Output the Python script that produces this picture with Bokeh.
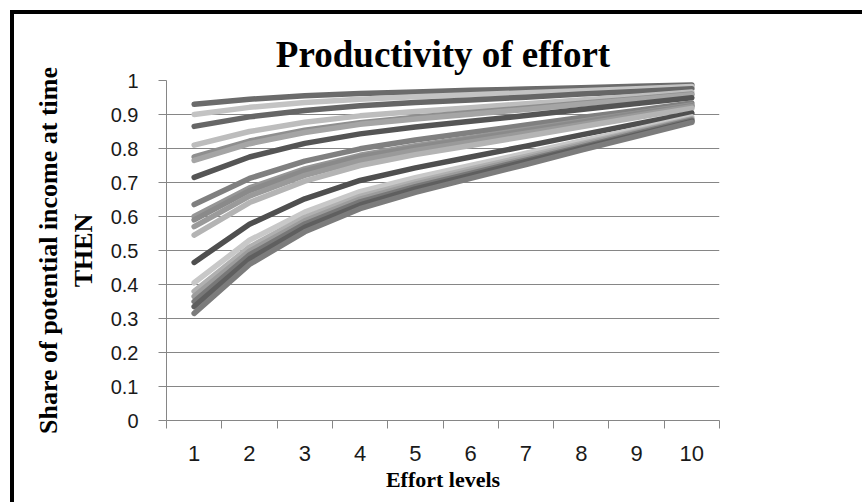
from bokeh.plotting import figure
from bokeh.models import Range1d, FixedTicker
from bokeh.embed import file_html
from bokeh.resources import INLINE

# ---- data ----
effort_levels = [1, 2, 3, 4, 5, 6, 7, 8, 9, 10]

s01 = [0.930, 0.945, 0.955, 0.962, 0.966, 0.971, 0.975, 0.979, 0.983, 0.987]
s02 = [0.900, 0.921, 0.935, 0.945, 0.952, 0.958, 0.964, 0.970, 0.976, 0.982]
s03 = [0.865, 0.893, 0.912, 0.926, 0.935, 0.943, 0.951, 0.960, 0.968, 0.976]
s04 = [0.810, 0.850, 0.877, 0.896, 0.909, 0.920, 0.932, 0.943, 0.954, 0.966]
s05 = [0.775, 0.822, 0.854, 0.876, 0.892, 0.906, 0.919, 0.933, 0.946, 0.960]
s06 = [0.765, 0.814, 0.847, 0.871, 0.887, 0.901, 0.915, 0.930, 0.944, 0.958]
s07 = [0.715, 0.775, 0.815, 0.843, 0.863, 0.880, 0.897, 0.915, 0.932, 0.949]
s08 = [0.635, 0.712, 0.763, 0.799, 0.825, 0.847, 0.869, 0.891, 0.912, 0.934]
s09 = [0.600, 0.684, 0.740, 0.780, 0.808, 0.832, 0.856, 0.880, 0.904, 0.928]
s10 = [0.590, 0.676, 0.734, 0.775, 0.803, 0.828, 0.852, 0.877, 0.902, 0.926]
s11 = [0.570, 0.660, 0.721, 0.764, 0.794, 0.819, 0.845, 0.871, 0.897, 0.923]
s12 = [0.545, 0.641, 0.704, 0.750, 0.782, 0.809, 0.836, 0.864, 0.891, 0.918]
s13 = [0.465, 0.577, 0.652, 0.706, 0.743, 0.775, 0.807, 0.840, 0.872, 0.904]
s14 = [0.405, 0.530, 0.613, 0.673, 0.714, 0.750, 0.786, 0.822, 0.857, 0.893]
s15 = [0.380, 0.510, 0.597, 0.659, 0.702, 0.740, 0.777, 0.814, 0.851, 0.888]
s16 = [0.365, 0.498, 0.587, 0.651, 0.695, 0.733, 0.771, 0.810, 0.848, 0.886]
s17 = [0.350, 0.487, 0.578, 0.643, 0.688, 0.727, 0.766, 0.805, 0.844, 0.883]
s18 = [0.335, 0.475, 0.568, 0.634, 0.681, 0.721, 0.761, 0.801, 0.840, 0.880]
s19 = [0.315, 0.459, 0.555, 0.623, 0.671, 0.712, 0.753, 0.795, 0.836, 0.877]

series = [s01, s02, s03, s04, s05, s06, s07, s08, s09, s10,
          s11, s12, s13, s14, s15, s16, s17, s18, s19]
series_colors = ["#6b6b6b", "#c3c3c3", "#666666", "#bdbdbd", "#8f8f8f",
                 "#a5a5a5", "#555555", "#808080", "#969696", "#8a8a8a",
                 "#9a9a9a", "#b4b4b4", "#4f4f4f", "#c8c8c8", "#b0b0b0",
                 "#9c9c9c", "#787878", "#5f5f5f", "#7c7c7c"]

x_tick_labels = ["1", "2", "3", "4", "5", "6", "7", "8", "9", "10"]
x_boundaries = [0.5, 1.5, 2.5, 3.5, 4.5, 5.5, 6.5, 7.5, 8.5, 9.5, 10.5]
y_ticks = [0.0, 0.1, 0.2, 0.3, 0.4, 0.5, 0.6, 0.7, 0.8, 0.9, 1.0]
y_tick_labels = ["0", "0.1", "0.2", "0.3", "0.4", "0.5", "0.6", "0.7", "0.8", "0.9", "1"]

W, H = 846, 484

# ---- figure ----
p = figure(width=W, height=H, output_backend="svg", toolbar_location=None,
           x_range=Range1d(0.5, 10.5), y_range=Range1d(0, 1),
           min_border_left=152, min_border_right=141,
           min_border_top=66, min_border_bottom=78,
           title="Productivity of effort")
p.margin = (14, 0, 0, 14)
p.background_fill_color = "white"
p.border_fill_color = "white"
p.outline_line_color = None

p.title.text_font = "Liberation Serif"
p.title.text_font_size = "37px"
p.title.text_font_style = "bold"
p.title.text_color = "#000000"
p.title.align = "center"
p.title.standoff = 11

for s, c in zip(series, series_colors):
    p.line(effort_levels, s, line_width=5.5, line_color=c,
           line_cap="round", line_join="round")

axis_gray = "#868686"

# x axis
xa = p.xaxis[0]
xa.ticker = FixedTicker(ticks=effort_levels, minor_ticks=x_boundaries)
xa.major_label_overrides = dict(zip(effort_levels, x_tick_labels))
xa.major_tick_out = 0
xa.major_tick_in = 0
xa.minor_tick_out = 8
xa.minor_tick_in = 0
xa.minor_tick_line_color = axis_gray
xa.axis_line_color = axis_gray
xa.major_label_text_font = "Liberation Sans"
xa.major_label_text_font_size = "22px"
xa.major_label_text_color = "#1a1a1a"
xa.major_label_standoff = 17
xa.axis_label = "Effort levels"
xa.axis_label_text_font = "Liberation Serif"
xa.axis_label_text_font_size = "22px"
xa.axis_label_text_font_style = "bold"
xa.axis_label_text_color = "#000000"
xa.axis_label_standoff = 3

# y axis
ya = p.yaxis[0]
ya.ticker = FixedTicker(ticks=y_ticks)
ya.major_label_overrides = dict(zip(y_ticks, y_tick_labels))
ya.major_tick_out = 8
ya.major_tick_in = 0
ya.minor_tick_out = 0
ya.minor_tick_in = 0
ya.major_tick_line_color = axis_gray
ya.axis_line_color = axis_gray
ya.major_label_text_font = "Liberation Sans"
ya.major_label_text_font_size = "20px"
ya.major_label_text_color = "#1a1a1a"
ya.major_label_standoff = 20
ya.axis_label = "Share of potential income at time\nTHEN"
ya.axis_label_text_font = "Liberation Serif"
ya.axis_label_text_font_size = "26px"
ya.axis_label_text_font_style = "bold"
ya.axis_label_text_color = "#000000"
ya.axis_label_standoff = 10

p.xgrid.visible = False
p.ygrid.ticker = FixedTicker(ticks=y_ticks)
p.ygrid.grid_line_color = axis_gray
p.ygrid.grid_line_width = 1

html = file_html(p, INLINE)

# black chart-area frame on the top and left edges only (page-level CSS)
frame_css = (
    "<style>"
    "html,body{margin:0;padding:0;overflow:hidden;}"
    "body::before{content:'';position:fixed;left:10px;top:10px;"
    "width:852px;height:4px;background:#000;z-index:10;}"
    "body::after{content:'';position:fixed;left:10px;top:10px;"
    "width:4px;height:492px;background:#000;z-index:10;}"
    "</style>"
)
html = html.replace("</head>", frame_css + "</head>", 1)

open("out.html", "w").write(html)
